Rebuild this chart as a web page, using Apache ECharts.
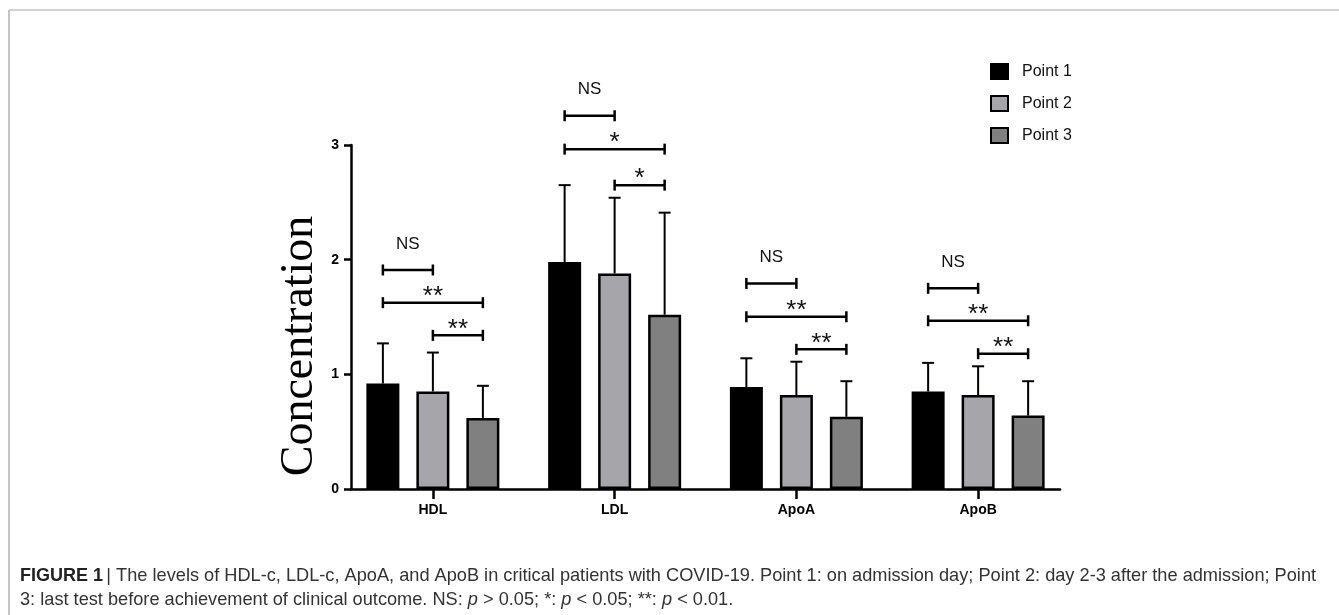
<!DOCTYPE html>
<html><head><meta charset="utf-8">
<script src="https://cdn.jsdelivr.net/npm/echarts@6/dist/echarts.min.js"></script>
<style>html,body{margin:0;padding:0;background:#fff}#c{width:1339px;height:615px}</style>
</head><body><div id="c"></div>
<script>
const categories = ['HDL', 'LDL', 'ApoA', 'ApoB'];
const seriesNames = ['Point 1', 'Point 2', 'Point 3'];
const point1Mean = [0.92, 1.98, 0.89, 0.85];
const point1Upper = [1.27, 2.65, 1.14, 1.10];
const point2Mean = [0.85, 1.88, 0.82, 0.82];
const point2Upper = [1.19, 2.54, 1.11, 1.07];
const point3Mean = [0.62, 1.52, 0.63, 0.64];
const point3Upper = [0.90, 2.41, 0.94, 0.94];
const yTicks = [0, 1, 2, 3];
// significance brackets: [categoryIndex, fromBar, toBar, level, label]
const brackets = [
  [0, 0, 1, 1.91, 'NS'], [0, 0, 2, 1.625, '**'], [0, 1, 2, 1.34, '**'],
  [1, 0, 1, 3.255, 'NS'], [1, 0, 2, 2.964, '*'], [1, 1, 2, 2.65, '*'],
  [2, 0, 1, 1.793, 'NS'], [2, 0, 2, 1.502, '**'], [2, 1, 2, 1.218, '**'],
  [3, 0, 1, 1.75, 'NS'], [3, 0, 2, 1.467, '**'], [3, 1, 2, 1.18, '**']
];
const captionLine1 = 'The levels of HDL-c, LDL-c, ApoA, and ApoB in critical patients with COVID-19. Point 1: on admission day; Point 2: day 2-3 after the admission; Point';

const means = [point1Mean, point2Mean, point3Mean];
const uppers = [point1Upper, point2Upper, point3Upper];
const colors = ['#000000', '#a6a6aa', '#808080'];
const BAR_W = 33, BAR_STEP = 50;

const errorData = [];
means.forEach((arr, s) => arr.forEach((m, i) => errorData.push([i, m, uppers[s][i], s])));

const chart = echarts.init(document.getElementById('c'), null, {renderer: 'canvas'});
const FONT = 'Liberation Sans, Arial, sans-serif';

const barSeries = seriesNames.map((n, s) => ({
  name: n, type: 'bar', xAxisIndex: 0, yAxisIndex: 0,
  data: means[s], barWidth: BAR_W, barGap: ((BAR_STEP - BAR_W) / BAR_W * 100) + '%',
  itemStyle: {color: colors[s], borderColor: '#000', borderWidth: 2.5},
  emphasis: {disabled: true}, z: 2
}));

const option = {
  animation: false,
  backgroundColor: '#fff',
  legend: {
    orient: 'vertical', left: 990, top: 63, padding: 0, itemWidth: 17, itemHeight: 15, itemGap: 15, icon: 'rect',
    textStyle: {fontFamily: FONT, fontSize: 16, color: '#111', padding: [0, 0, 0, 9]},
    data: seriesNames
  },
  grid: [
    {left: 342, top: 145, width: 727, height: 344},
    {left: 351, top: 145, width: 709, height: 344}
  ],
  xAxis: [
    {type: 'category', gridIndex: 0, data: categories,
     axisLine: {show: false},
     axisTick: {show: true, alignWithLabel: true, length: 10, lineStyle: {color: '#000', width: 2.5}},
     axisLabel: {fontFamily: FONT, fontSize: 14, fontWeight: 'bold', color: '#000', margin: 14}},
    {type: 'value', gridIndex: 1, min: 0, max: 1,
     axisLine: {show: true, lineStyle: {color: '#000', width: 2.5}},
     axisTick: {show: false}, axisLabel: {show: false}, splitLine: {show: false}}
  ],
  yAxis: [
    {type: 'value', gridIndex: 0, min: 0, max: 3, show: false, splitLine: {show: false}},
    {type: 'value', gridIndex: 1, min: yTicks[0], max: yTicks[yTicks.length - 1], interval: 1,
     axisLine: {show: true, lineStyle: {color: '#000', width: 2.5}},
     axisTick: {show: true, length: 7, lineStyle: {color: '#000', width: 2.5}},
     axisLabel: {fontFamily: FONT, fontSize: 14, fontWeight: 'bold', color: '#000', margin: 12},
     splitLine: {show: false}}
  ],
  series: barSeries.concat([
    {
      type: 'custom', xAxisIndex: 0, yAxisIndex: 0, data: errorData, z: 3, silent: true,
      renderItem(params, api) {
        const cat = api.value(0), s = api.value(3);
        const off = (s - 1) * BAR_STEP;
        const p0 = api.coord([cat, api.value(1)]);
        const p1 = api.coord([cat, api.value(2)]);
        const x = p0[0] + off;
        return {type: 'group', children: [
          {type: 'line', shape: {x1: x, y1: p0[1], x2: x, y2: p1[1]}, style: {stroke: '#000', lineWidth: 2}},
          {type: 'line', shape: {x1: x - 6, y1: p1[1], x2: x + 6, y2: p1[1]}, style: {stroke: '#000', lineWidth: 2}}
        ]};
      }
    },
    {
      type: 'custom', xAxisIndex: 0, yAxisIndex: 0, data: brackets, z: 4, silent: true, clip: false,
      renderItem(params, api) {
        const b = brackets[params.dataIndex];
        const c = api.coord([b[0], b[3]]);
        const xa = c[0] + (b[1] - 1) * BAR_STEP;
        const xb = c[0] + (b[2] - 1) * BAR_STEP;
        const y = c[1];
        const isNS = b[4] === 'NS';
        return {type: 'group', children: [
          {type: 'line', shape: {x1: xa, y1: y, x2: xb, y2: y}, style: {stroke: '#000', lineWidth: 2.5}},
          {type: 'line', shape: {x1: xa, y1: y - 5.5, x2: xa, y2: y + 5.5}, style: {stroke: '#000', lineWidth: 2.5}},
          {type: 'line', shape: {x1: xb, y1: y - 5.5, x2: xb, y2: y + 5.5}, style: {stroke: '#000', lineWidth: 2.5}},
          {type: 'text', x: (xa + xb) / 2, y: isNS ? y - 26 : y - 6,
           style: {text: b[4], fill: '#111', align: 'center', verticalAlign: 'middle',
                   font: (isNS ? '17px ' : '26px ') + FONT}}
        ]};
      }
    }
  ]),
  graphic: [
    {type: 'line', shape: {x1: 9, y1: 10, x2: 1339, y2: 10}, style: {stroke: '#c4c4c4', lineWidth: 1.5}},
    {type: 'line', shape: {x1: 9, y1: 10, x2: 9, y2: 615}, style: {stroke: '#b0b0b0', lineWidth: 1.5}},
    {type: 'text', x: 300, y: 346, rotation: Math.PI / 2, style: {
      text: 'Concentration', align: 'center', verticalAlign: 'middle', fill: '#000',
      font: '46px Liberation Serif, Times New Roman, serif'}},
    {type: 'text', x: 20, y: 576, style: {
      text: '{b|FIGURE 1} {n|| ' + captionLine1 + '}', verticalAlign: 'middle',
      rich: {b: {fontFamily: FONT, fontSize: 18, fontWeight: 'bold', fill: '#222'},
             n: {fontFamily: FONT, fontSize: 18.2, fill: '#333'}}}},
    {type: 'text', x: 20, y: 600, style: {
      text: '{n|3: last test before achievement of clinical outcome. NS: }{i|p}{n| > 0.05; *: }{i|p}{n| < 0.05; **: }{i|p}{n| < 0.01.}',
      verticalAlign: 'middle',
      rich: {n: {fontFamily: FONT, fontSize: 18.2, fill: '#333'},
             i: {fontFamily: FONT, fontSize: 18.2, fontStyle: 'italic', fill: '#333'}}}}
  ]
};
chart.setOption(option);
</script>
</body></html>
